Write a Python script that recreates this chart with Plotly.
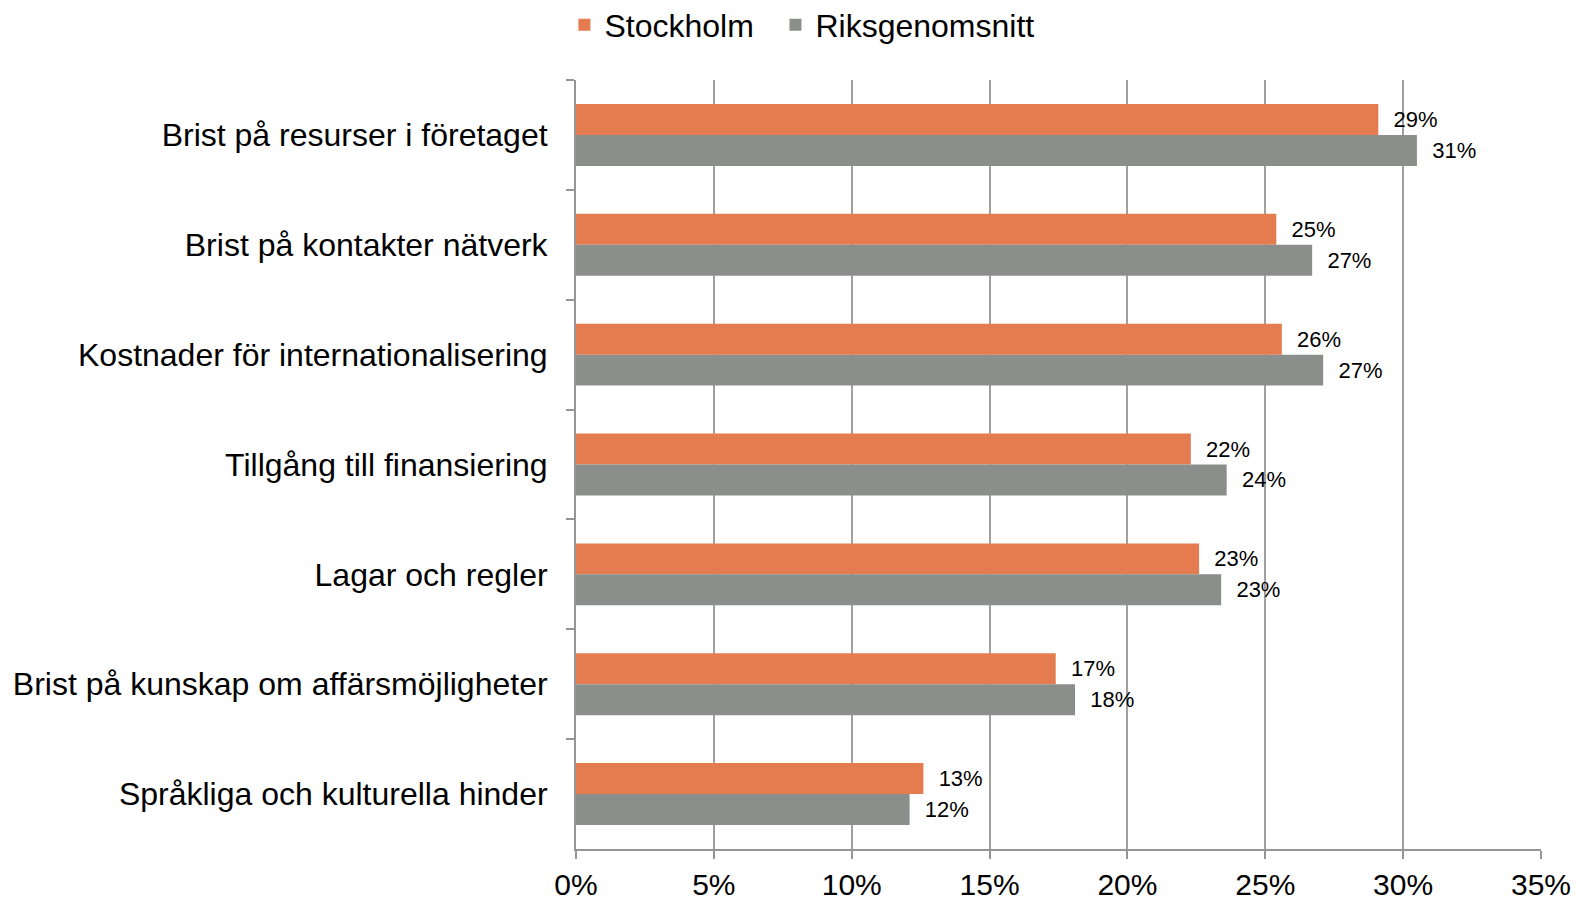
import plotly.graph_objects as go

categories = [
    "Brist på resurser i företaget",
    "Brist på kontakter nätverk",
    "Kostnader för internationalisering",
    "Tillgång till finansiering",
    "Lagar och regler",
    "Brist på kunskap om affärsmöjligheter",
    "Språkliga och kulturella hinder",
]
stockholm = [0.291, 0.254, 0.256, 0.223, 0.226, 0.174, 0.126]
riksgenomsnitt = [0.305, 0.267, 0.271, 0.236, 0.234, 0.181, 0.121]

ORANGE = "rgb(229,124,80)"
GRAY = "rgb(139,143,140)"
FONT = "Liberation Sans, Arial, sans-serif"

fig = go.Figure()

# Stockholm first -> top bar in each group (y axis reversed)
fig.add_trace(go.Bar(
    y=categories, x=stockholm, name="Stockholm", orientation="h",
    marker=dict(color=ORANGE, line=dict(width=0)),
    texttemplate="  %{x:.0%}", textposition="outside",
    textfont=dict(size=22, color="black", family=FONT),
    cliponaxis=False, legend="legend", showlegend=True,
))
fig.add_trace(go.Bar(
    y=categories, x=riksgenomsnitt, name="Riksgenomsnitt", orientation="h",
    marker=dict(color=GRAY, line=dict(width=0)),
    texttemplate="  %{x:.0%}", textposition="outside",
    textfont=dict(size=22, color="black", family=FONT),
    cliponaxis=False, legend="legend2", showlegend=True,
))

legend_style = dict(
    orientation="h", y=1.0715, xanchor="left", yanchor="middle",
    font=dict(size=32), itemwidth=30,
)

# page body has an 8px margin, so margins are offset by 8px
fig.update_layout(
    width=1587, height=900, showlegend=True,
    barmode="group", bargap=0.436, bargroupgap=0,
    plot_bgcolor="white", paper_bgcolor="white",
    font=dict(family=FONT, size=32, color="black"),
    margin=dict(l=568, r=54, t=72, b=59, autoexpand=False),
    uniformtext=dict(mode=False),
    legend=dict(x=-0.012, **legend_style),
    legend2=dict(x=0.2067, **legend_style),
)

fig.update_xaxes(
    range=[0, 0.35], dtick=0.05, tickformat=".0%",
    showgrid=True, gridcolor="rgb(160,160,160)", gridwidth=2,
    showline=True, linecolor="rgb(150,150,150)", linewidth=2,
    ticks="outside", ticklen=8, tickwidth=2, tickcolor="rgb(150,150,150)",
    tickfont=dict(size=30), zeroline=False,
)
fig.update_yaxes(
    autorange="reversed", tickson="boundaries",
    showline=True, linecolor="rgb(150,150,150)", linewidth=2,
    ticks="outside", ticklen=8, tickwidth=2, tickcolor="rgb(150,150,150)",
    tickfont=dict(size=32), ticklabelstandoff=20, showgrid=False,
)

fig.write_html("out.html")
